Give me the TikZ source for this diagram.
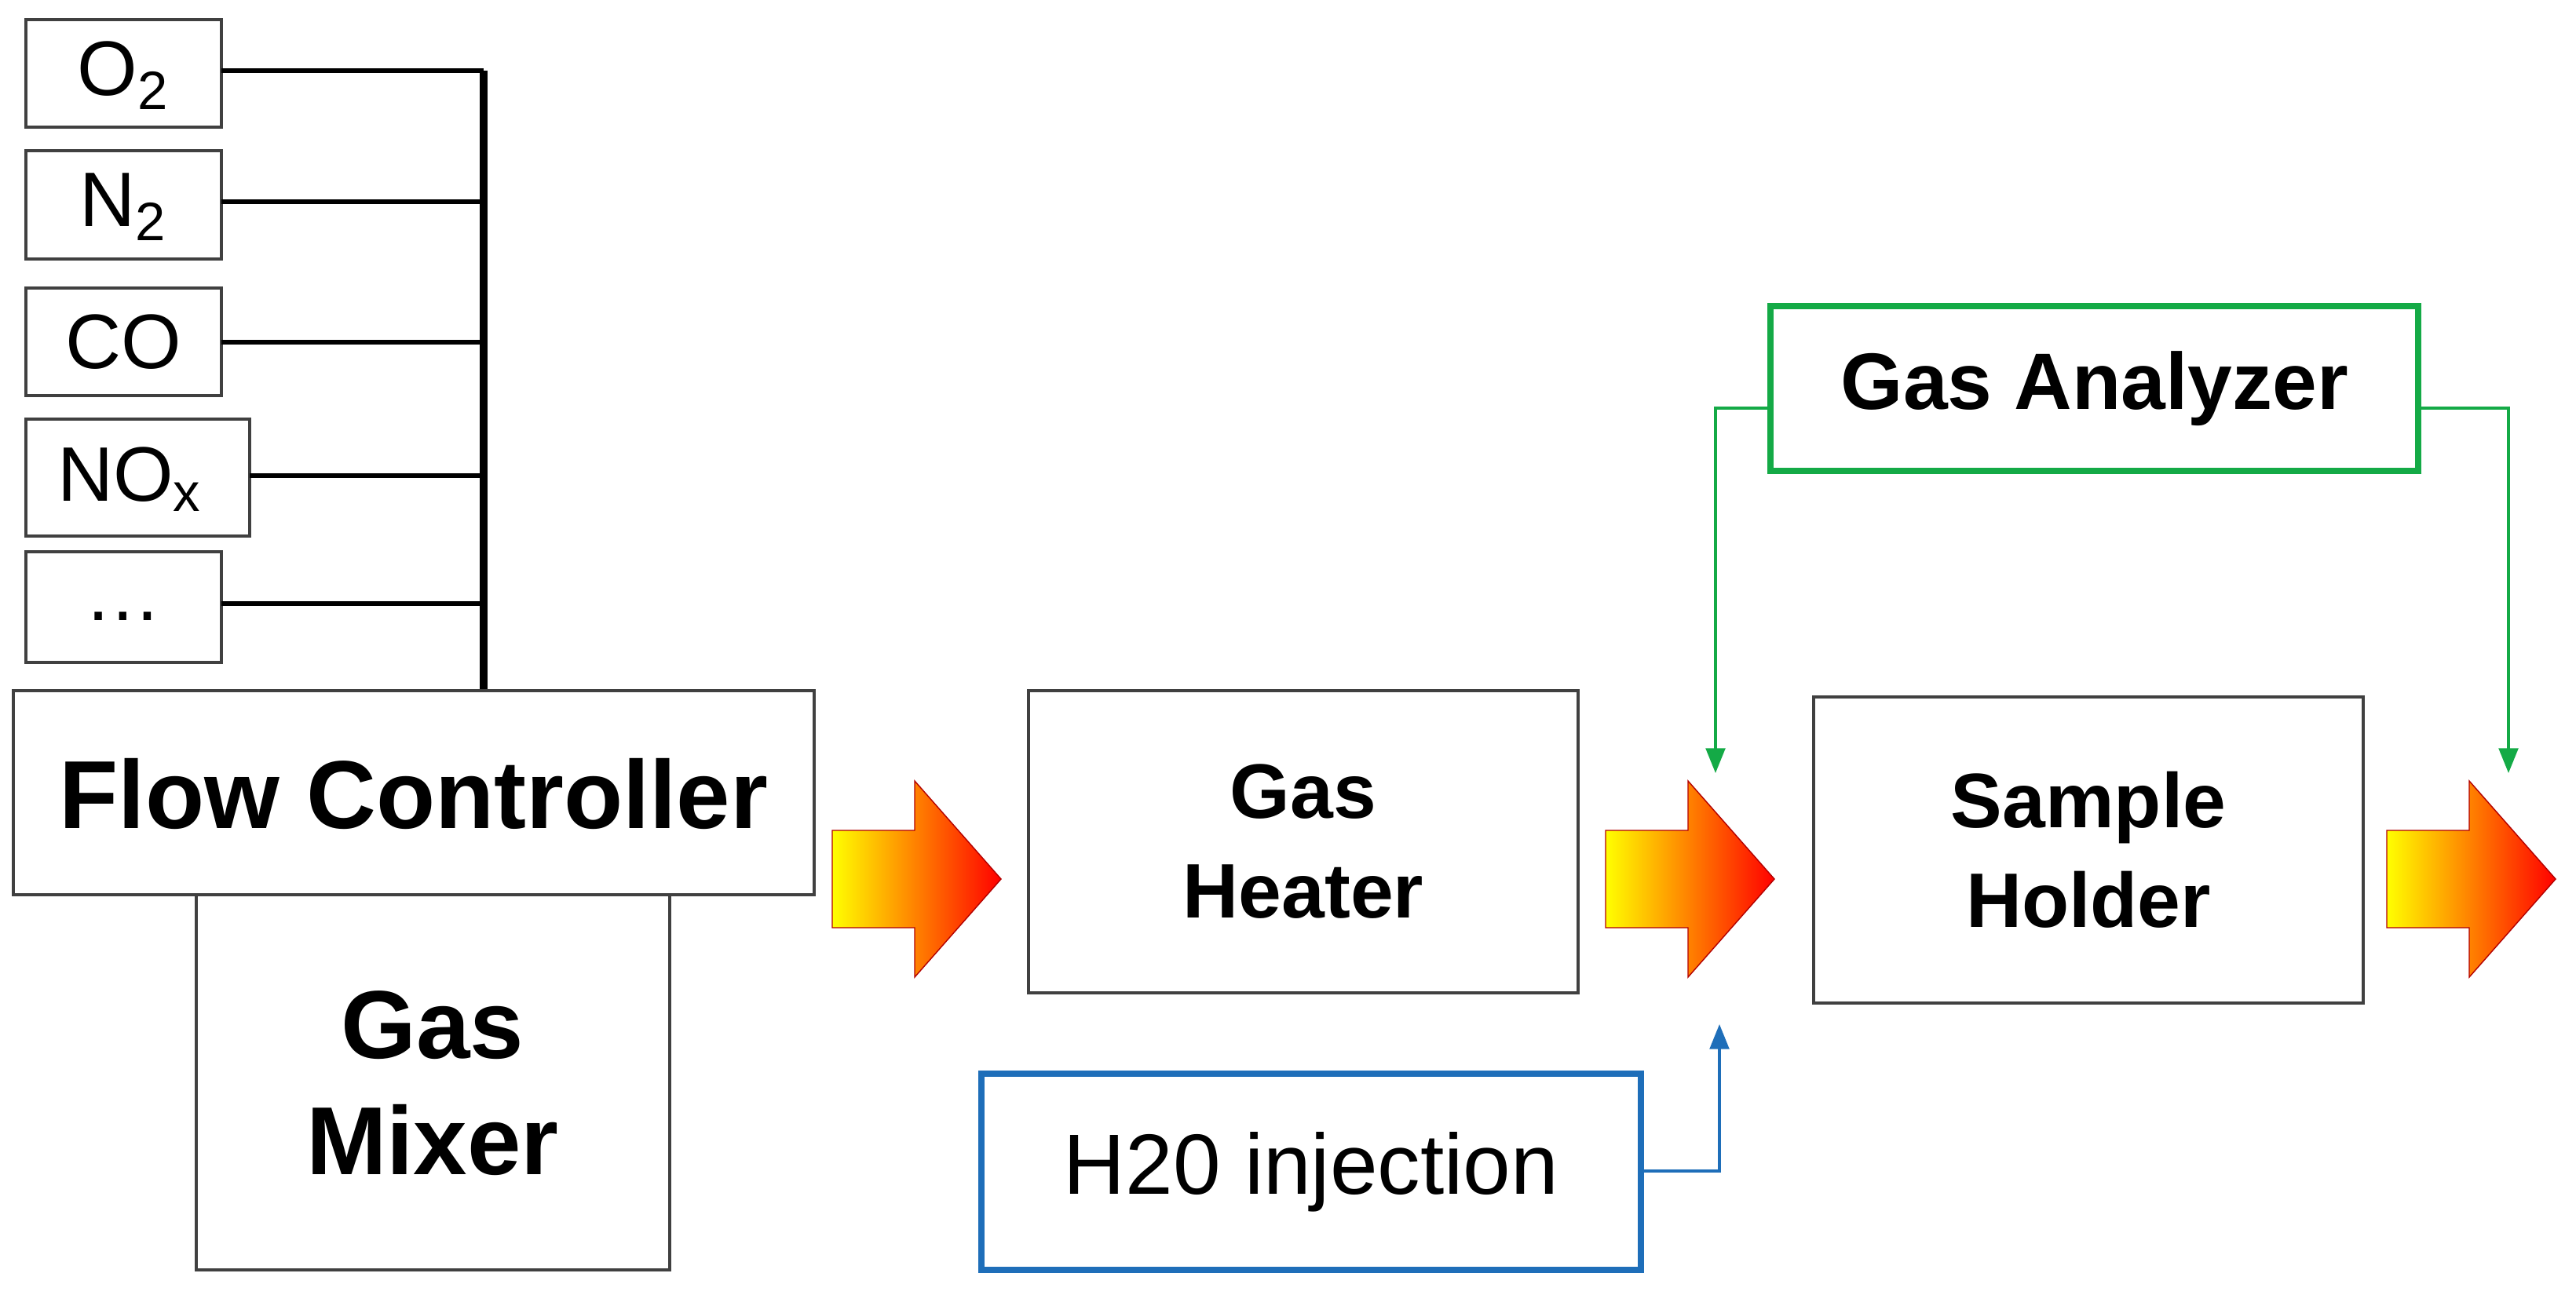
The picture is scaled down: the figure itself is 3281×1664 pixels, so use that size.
\documentclass[tikz,border=0pt]{standalone}
\usepackage{fontspec}
\setmainfont{Liberation Sans}
\usetikzlibrary{arrows.meta}
\definecolor{gblue}{RGB}{30,110,185}
\definecolor{ggreen}{RGB}{20,170,70}
\begin{document}
\begin{tikzpicture}[x=0.01cm,y=-0.01cm,
  box/.style={draw=black!75,line width=0.9pt,fill=white},
  gas/.style={font=\fontsize{28pt}{30pt}\selectfont},
  big/.style={font=\fontsize{35pt}{42pt}\selectfont\bfseries,align=center},
  mid/.style={font=\fontsize{28pt}{36pt}\selectfont\bfseries,align=center},
  bus/.style={line width=1.6pt},
  hot/.style={draw=red!70!black,line width=0.4pt,left color=yellow,right color=red},
  feed/.style={line width=1pt,-{Triangle[length=9pt,width=7pt]}}]
\useasboundingbox (0,0) rectangle (3281,1664);
% gas bottles
\draw[box] (33,25) rectangle (282,162);   \node[gas] (o2) at (157,96) {O\textsubscript{2}};
\draw[box] (33,192) rectangle (282,330);  \node[gas] (n2) at (157,264) {N\textsubscript{2}};
\draw[box] (33,367) rectangle (282,504);  \node[gas] (co) at (157,436) {CO};
\draw[box] (33,534) rectangle (318,683);  \node[gas] (nox) at (165,611) {NO\textsubscript{x}};
\draw[box] (33,703) rectangle (282,844);  \node[gas] (etc) at (157,785) {\dots};
% manifold
\coordinate (b1) at (616,90); \coordinate (b2) at (616,257); \coordinate (b3) at (616,436);
\coordinate (b4) at (616,606); \coordinate (b5) at (616,769); \coordinate (bot) at (616,880);
\draw[bus] (282,90) -- (b1); \draw[bus] (282,257) -- (b2); \draw[bus] (282,436) -- (b3);
\draw[bus] (318,606) -- (b4); \draw[bus] (282,769) -- (b5);
\draw[line width=2.6pt] (b1) -- (bot);
% main boxes
\draw[box] (250,1140) rectangle (853,1618);
\node[big] (mix) at (551,1380) {Gas\\Mixer};
\draw[box] (17,880) rectangle (1037,1140);
\node[big] (fc) at (527,1012) {Flow Controller};
\draw[box] (1310,880) rectangle (2010,1265);
\node[mid] (heat) at (1660,1072) {Gas\\Heater};
\draw[box] (2310,888) rectangle (3010,1278);
\node[mid] (samp) at (2660,1083) {Sample\\Holder};
\draw[draw=gblue,line width=2.4pt] (1250,1368) rectangle (2090,1618);
\node[font=\fontsize{31pt}{34pt}\selectfont] (h2o) at (1670,1493) {H20 injection};
\draw[draw=ggreen,line width=2.4pt] (2255,390) rectangle (3080,600);
\node[font=\fontsize{29pt}{32pt}\selectfont\bfseries] (ana) at (2668,495) {Gas Analyzer};
% flow arrows
\foreach \x in {1060,2045,3040}
  \path[hot] (\x,1058) -- (\x+105,1058) -- (\x+105,995) -- (\x+215,1120)
    -- (\x+105,1245) -- (\x+105,1182) -- (\x,1182) -- cycle;
% side feeds
\coordinate (ain) at (2185,985); \coordinate (aout) at (3195,985); \coordinate (hin) at (2190,1305);
\draw[feed,draw=ggreen] (2255,520) -| (ain);
\draw[feed,draw=ggreen] (3080,520) -| (aout);
\draw[feed,draw=gblue] (2090,1492) -| (hin);
\end{tikzpicture}
\end{document}
